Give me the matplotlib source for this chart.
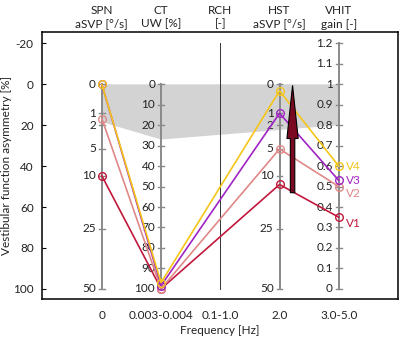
import matplotlib
matplotlib.use("Agg")
import matplotlib.pyplot as plt
import numpy as np
from matplotlib.patches import FancyArrow

plt.rcParams["font.family"] = ["Lato", "DejaVu Sans"]

# categories along the frequency axis
freq_labels = ["0", "0.003-0.004", "0.1-1.0", "2.0", "3.0-5.0"]
test_names = ["SPN\naSVP [°/s]", "CT\nUW [%]", "RCH\n[-]", "HST\naSVP [°/s]", "VHIT\ngain [-]"]

# values per visit, in each test's own units
visits = ["V1", "V2", "V3", "V4"]
spn = [10, 1.4, 0, 0]           # aSVP [deg/s]
ct = [100, 100, 98.5, 97]       # UW [%]
hst = [12, 5, 1, 0.05]          # aSVP [deg/s]
vhit = [0.35, 0.5, 0.53, 0.6]   # gain
colors = ["#c2183c", "#e08888", "#a024c4", "#f5c518"]

# normal range limits (gray area)
norm_spn = 1.7
norm_ct = 27
norm_vhit = 0.8

# axis tick values
svp_ticks = [0, 1, 2, 5, 10, 25, 50]
ct_ticks = list(range(0, 101, 10))
vhit_ticks = [round(0.1 * i, 1) for i in range(13)]


def svp(v):
    return 100 * np.sqrt(np.asarray(v, dtype=float) / 50)


def uw(v):
    return np.asarray(v, dtype=float)


def gain(v):
    return 100 * (1 - np.asarray(v, dtype=float))


fig = plt.figure(figsize=(4.0, 3.39), dpi=100)
ax = fig.add_axes([0.105, 0.118, 0.89, 0.787])
ax.set_xlim(-1.01, 5.0)
ax.set_ylim(105, -25.5)

gray_axis = "#8a8a8a"
txt = "#222222"

# gray normal area
px = [0, 1, 4, 4, 0]
py = [svp(norm_spn), uw(norm_ct), gain(norm_vhit), 0, 0]
ax.fill(px, py, color="#d3d3d3", lw=0, zorder=1)

# parallel axes
def draw_axis(x, ticks, conv, top, bottom):
    ax.plot([x, x], [conv(top), conv(bottom)], color=gray_axis, lw=1.4, zorder=2)
    for t in ticks:
        yy = conv(t)
        ax.plot([x - 0.05, x + 0.05], [yy, yy], color=gray_axis, lw=1.0, zorder=2)
        ax.text(x - 0.1, yy, f"{t:g}", ha="right", va="center", fontsize=8.5, color=txt, zorder=2)

draw_axis(0, svp_ticks, svp, 0, 50)
draw_axis(1, ct_ticks, uw, 0, 100)
draw_axis(3, svp_ticks, svp, 0, 50)
draw_axis(4, vhit_ticks, gain, 1.2, 0)
ax.plot([2, 2], [-20, 100], color="#333333", lw=0.7, zorder=2)

# visit lines
for i, v in enumerate(visits):
    xs = [0, 1, 3, 4]
    ys = [svp(spn[i]), uw(ct[i]), svp(hst[i]), gain(vhit[i])]
    ax.plot(xs, ys, color=colors[i], lw=1.2, marker="o", ms=5.5, mfc="none",
            mew=1.0, zorder=3 + i)
    dy = {"V1": 3, "V2": 3.5, "V3": 0, "V4": 0}[v]
    ax.text(4.12, ys[-1] + dy, v, color=colors[i], fontsize=8.5, va="center", ha="left")

# improvement arrow
ax.add_patch(FancyArrow(3.22, 53, 0, -52.5, width=0.075, head_width=0.19,
                        head_length=26, length_includes_head=True,
                        fc="#7a0a22", ec="black", lw=0.8, zorder=10))

# test names on top
for i, name in enumerate(test_names):
    ax.text(i, 1.01, name, transform=ax.get_xaxis_transform(), ha="center",
            va="bottom", fontsize=8.5, color=txt, linespacing=1.3)

ax.set_yticks([-20, 0, 20, 40, 60, 80, 100])
ax.set_yticklabels(["-20", "0", "20", "40", "60", "80", "100"])
ax.tick_params(axis="y", direction="in", length=3, labelsize=8.5, colors="black",
               labelcolor=txt, pad=6)
ax.set_xticks(range(5))
ax.set_xticklabels(freq_labels)
ax.tick_params(axis="x", length=0, labelsize=8.5, labelcolor=txt, pad=8)
for s in ax.spines.values():
    s.set_linewidth(1.1)
ax.set_ylabel("Vestibular function asymmetry [%]", fontsize=8.5, color=txt, labelpad=1)
ax.set_xlabel("Frequency [Hz]", fontsize=8.5, color=txt, labelpad=3)

fig.savefig("out.png", dpi=100)
